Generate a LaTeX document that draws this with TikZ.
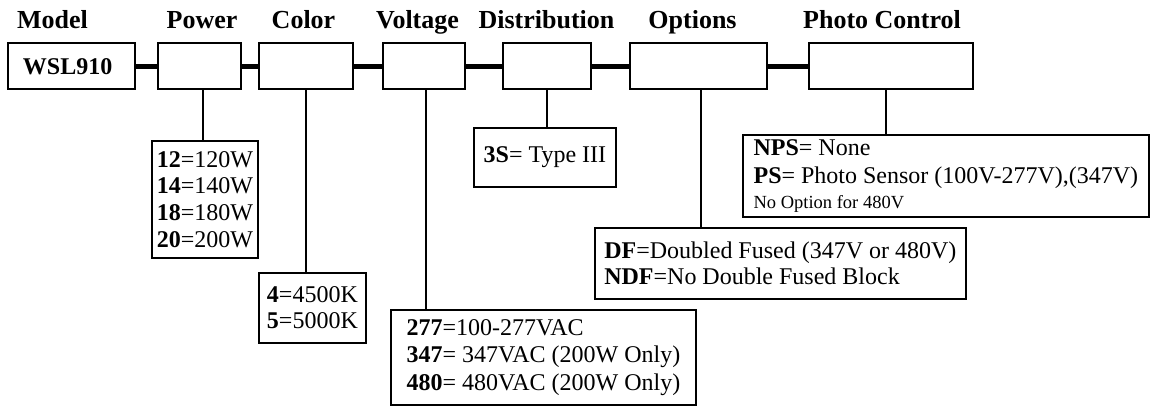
\documentclass[tikz,border=0pt]{standalone}
\usepackage{fontspec}
\setmainfont{Liberation Serif}
\usetikzlibrary{positioning}

\begin{document}
\begin{tikzpicture}[x=1pt, y=-1pt,
    top/.style={draw, line width=1.8pt, minimum height=46pt, inner sep=0pt, font=\bfseries\fontsize{24}{28}\selectfont},
    val/.style={draw, line width=1.8pt, align=left, anchor=north west, inner sep=0pt, font=\fontsize{24}{27}\selectfont},
    hdr/.style={font=\bfseries\fontsize{26}{30}\selectfont, anchor=base},
    bar/.style={line width=4.5pt},
    drop/.style={line width=1.8pt}]
    \useasboundingbox (0,0) rectangle (1151,405);

    % headers
    \node[hdr] (hmodel) at (52.5,28) {Model};
    \node[hdr] (hpower) at (202,28) {Power};
    \node[hdr] (hcolor) at (303.5,28) {Color};
    \node[hdr] (hvolt) at (417.5,28) {Voltage};
    \node[hdr] (hdist) at (546.5,28) {Distribution};
    \node[hdr] (hopt) at (692.5,28) {Options};
    \node[hdr] (hphoto) at (882,28) {Photo Control};

    % code boxes
    \node[top, text width=97pt, inner xsep=15pt, align=left, text depth=-3pt] (model) at (71.5,66.3) {WSL910};
    \node[top, minimum width=83pt] (power) at (199.5,66.3) {};
    \node[top, minimum width=94pt] (color) at (306,66.3) {};
    \node[top, minimum width=82pt] (volt) at (424,66.3) {};
    \node[top, minimum width=88pt] (dist) at (547,66.3) {};
    \node[top, minimum width=137pt] (opt) at (698.5,66.3) {};
    \node[top, minimum width=164pt] (photo) at (891,66.3) {};

    % value boxes
    \node[val, minimum width=106pt, minimum height=117pt, font=\fontsize{24}{26.7}\selectfont] (powerval) at (151,140)
        {\textbf{12}=120W\\\textbf{14}=140W\\\textbf{18}=180W\\\textbf{20}=200W};
    \node[val, minimum width=107pt, minimum height=70pt, font=\fontsize{24}{26}\selectfont] (colorval) at (258,272)
        {\textbf{4}=4500K\\\textbf{5}=5000K};
    \node[val, minimum width=305pt, minimum height=95pt, font=\fontsize{24}{27.5}\selectfont] (voltval) at (390,309)
        {\textbf{277}=100-277VAC\\\textbf{347}= 347VAC (200W Only)\\\textbf{480}= 480VAC (200W Only)};
    \node[val, minimum width=142pt, minimum height=59pt] (distval) at (473,127)
        {\textbf{3S}= Type III};
    \node[val, minimum width=371pt, minimum height=71pt, font=\fontsize{24}{26}\selectfont] (optval) at (594,227)
        {\textbf{DF}=Doubled Fused (347V or 480V)\\\textbf{NDF}=No Double Fused Block};
    \node[val, minimum width=406pt, minimum height=82pt, font=\fontsize{24}{28}\selectfont] (photoval) at (742,134)
        {\textbf{NPS}= None\\\textbf{PS}= Photo Sensor (100V-277V),(347V)\\[-3pt]{\fontsize{18.5}{22}\selectfont No Option for 480V}};

    \draw[bar] (model) -- (power);
    \draw[bar] (power) -- (color);
    \draw[bar] (color) -- (volt);
    \draw[bar] (volt) -- (dist);
    \draw[bar] (dist) -- (opt);
    \draw[bar] (opt) -- (photo);

    \draw[drop] ([xshift=3.5pt]power.south) -- ([xshift=3.5pt]power.south |- powerval.north);
    \draw[drop] (color.south) -- (color.south |- colorval.north);
    \draw[drop] ([xshift=2pt]volt.south) -- ([xshift=2pt]volt.south |- voltval.north);
    \draw[drop] (dist.south) -- (dist.south |- distval.north);
    \draw[drop] ([xshift=2.5pt]opt.south) -- ([xshift=2.5pt]opt.south |- optval.north);
    \draw[drop] ([xshift=-5pt]photo.south) -- ([xshift=-5pt]photo.south |- photoval.north);
\end{tikzpicture}
\end{document}
